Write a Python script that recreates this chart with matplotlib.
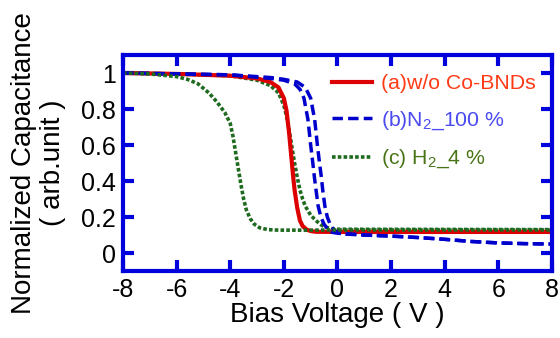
import matplotlib
matplotlib.use('Agg')
import matplotlib.pyplot as plt
from matplotlib.lines import Line2D

plt.rcParams['font.family'] = ['Liberation Sans', 'DejaVu Sans']
plt.rcParams['mathtext.fontset'] = 'custom'
plt.rcParams['mathtext.rm'] = 'Liberation Sans'
plt.rcParams['mathtext.it'] = 'Liberation Sans'
plt.rcParams['axes.unicode_minus'] = False

# (a) w/o Co-BNDs
xa = [-8, -6, -4, -3, -2.5, -2.2, -2.0, -1.9, -1.8, -1.75, -1.7, -1.65, -1.6, -1.5, -1.4, -1.3, -1.15, -1.0, -0.8, 0, 8]
ya = [1.0, 0.995, 0.985, 0.97, 0.95, 0.92, 0.86, 0.79, 0.66, 0.58, 0.5, 0.42, 0.35, 0.25, 0.18, 0.15, 0.13, 0.122, 0.118, 0.117, 0.117]

# (b) N2_100 %  (two sweeps)
xb1 = [-8, -6, -4, -2.5, -2.0, -1.6, -1.4, -1.25, -1.1, -1.0, -0.92, -0.86, -0.8, -0.72, -0.62, -0.5, -0.35, -0.2, 0, 1, 2, 3, 4, 5, 6, 7, 8]
yb1 = [1.0, 0.995, 0.99, 0.97, 0.96, 0.94, 0.91, 0.86, 0.74, 0.6, 0.5, 0.42, 0.35, 0.26, 0.2, 0.16, 0.13, 0.115, 0.11, 0.1, 0.094, 0.086, 0.076, 0.064, 0.056, 0.052, 0.05]
xb2 = [-8, -6, -4, -2.5, -2.0, -1.5, -1.2, -1.0, -0.85, -0.75, -0.67, -0.6, -0.55, -0.47, -0.38, -0.25, -0.1, 0.05, 0.3, 1, 2, 3, 4, 5, 6, 7, 8]
yb2 = [1.0, 0.995, 0.99, 0.975, 0.965, 0.95, 0.92, 0.86, 0.74, 0.6, 0.5, 0.42, 0.35, 0.26, 0.2, 0.15, 0.125, 0.11, 0.105, 0.1, 0.094, 0.086, 0.076, 0.064, 0.056, 0.052, 0.05]

# (c) H2_4 %  (two sweeps)
xc1 = [-8, -7, -6, -5.6, -5.2, -4.8, -4.5, -4.2, -4.0, -3.9, -3.8, -3.7, -3.6, -3.5, -3.4, -3.25, -3.1, -2.9, -2.6, -2.2, -1, 0, 8]
yc1 = [1.0, 0.995, 0.98, 0.965, 0.94, 0.89, 0.84, 0.78, 0.72, 0.65, 0.56, 0.47, 0.38, 0.3, 0.24, 0.19, 0.16, 0.14, 0.13, 0.127, 0.127, 0.128, 0.128]
xc2 = [-8, -6, -4, -3, -2.5, -2.2, -2.0, -1.9, -1.8, -1.7, -1.6, -1.5, -1.4, -1.3, -1.2, -1.0, -0.8, -0.6, -0.4, -0.2, 0, 8]
yc2 = [1.0, 0.995, 0.985, 0.96, 0.93, 0.89, 0.82, 0.76, 0.68, 0.59, 0.5, 0.42, 0.35, 0.3, 0.26, 0.21, 0.18, 0.155, 0.142, 0.135, 0.132, 0.13]

xticks = [-8, -6, -4, -2, 0, 2, 4, 6, 8]
yticks = [0, 0.2, 0.4, 0.6, 0.8, 1.0]
ytick_labels = ['0', '0.2', '0.4', '0.6', '0.8', '1']

red = '#dd0000'
blue = '#0000cc'
green = '#1e6a1e'
axis_blue = '#0000dd'

fig = plt.figure(figsize=(5.6, 3.38), dpi=100)
ax = fig.add_axes([0.2196, 0.1982, 0.7661, 0.6390])

ax.plot(xc2, yc2, color=green, lw=2.6, ls=(0, (1, 0.6)))
ax.plot(xa, ya, color=red, lw=3)
ax.plot(xb1, yb1, color=blue, lw=2.5, ls=(0, (3, 1.5)))
ax.plot(xb2, yb2, color=blue, lw=2.5, ls=(0, (3, 1.5)))
ax.plot(xc1, yc1, color=green, lw=2.6, ls=(0, (1, 0.6)))

ax.set_xlim(-8, 8)
ax.set_ylim(-0.1, 1.1)
ax.set_xticks(xticks)
ax.set_yticks(yticks)
ax.set_yticklabels(ytick_labels)
ax.tick_params(axis='both', which='major', direction='in', length=8, width=3,
               color=axis_blue, labelsize=18, top=True, right=True, pad=5)
for s in ax.spines.values():
    s.set_color(axis_blue)
    s.set_linewidth(3)

ax.set_xlabel('Bias Voltage ( V )', fontsize=20, labelpad=0)
ax.set_ylabel('Normalized Capacitance\n( arb.unit )', fontsize=20, labelpad=11, linespacing=1.15)

handles = [Line2D([], [], color=red, lw=3),
           Line2D([], [], color=blue, lw=2.5, ls=(0, (3, 1.5))),
           Line2D([], [], color=green, lw=2.6, ls=(0, (1, 0.6)))]
labels = ['(a)w/o Co-BNDs', '(b)N$_2$_100 %', '(c) H$_2$_4 %']
ax.legend(handles, labels, loc='upper left', bbox_to_anchor=(0.468, 0.95),
          frameon=False, fontsize=15.3, handlelength=1.85, handletextpad=0.45,
          labelspacing=0.75, borderaxespad=0,
          labelcolor=['#ff3a14', '#4a4af0', '#4a7418'])

fig.savefig('out.png', dpi=100)
